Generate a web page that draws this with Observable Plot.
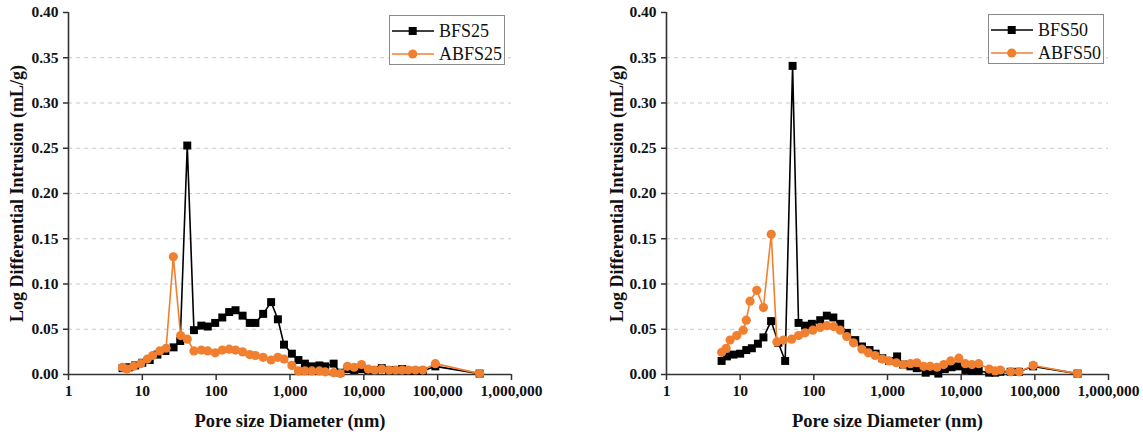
<!DOCTYPE html>
<html>
<head>
<meta charset="utf-8">
<script src="https://cdn.jsdelivr.net/npm/d3@7"></script>
<script src="https://cdn.jsdelivr.net/npm/@observablehq/plot@0.6"></script>
<style>
  html, body { margin: 0; padding: 0; background: #fff; }
  #wrap { position: relative; width: 1143px; height: 436px; overflow: hidden; font-family: "Liberation Serif", "Times New Roman", serif; }
  .panel { position: absolute; top: 0; }
  .legend { position: absolute; border: 1px solid #8a8a8a; background: #fff; box-sizing: border-box; }
  .legend .row { position: absolute; left: 0; height: 22px; display: flex; align-items: center; }
  .legend .row span { position: absolute; left: 49px; font-size: 18px; line-height: 22px; color: #111; white-space: nowrap; }
</style>
</head>
<body>
<div id="wrap"></div>
<script>
// ---------- data ----------
const seriesNames25 = ["BFS25", "ABFS25"];
const seriesNames50 = ["BFS50", "ABFS50"];

const bfs25Diameter = [5.4, 6.6, 8.0, 10, 12.6, 16, 20.5, 26.5, 32.6, 40.6, 50, 63, 77, 97, 121, 150, 183, 228, 285, 340, 433, 555, 685, 829, 1060, 1300, 1590, 1980, 2500, 3000, 3900, 4800, 6000, 7400, 9300, 11500, 14000, 17500, 22000, 27000, 33000, 40000, 50000, 63000, 93000, 370000];
const bfs25Value = [0.007, 0.008, 0.010, 0.013, 0.016, 0.022, 0.026, 0.030, 0.037, 0.253, 0.049, 0.054, 0.053, 0.057, 0.063, 0.069, 0.071, 0.065, 0.057, 0.057, 0.067, 0.080, 0.061, 0.033, 0.023, 0.016, 0.012, 0.009, 0.010, 0.009, 0.012, 0.002, 0.006, 0.005, 0.006, 0.005, 0.005, 0.007, 0.005, 0.005, 0.006, 0.004, 0.004, 0.004, 0.009, 0.001];

const abfs25Diameter = [5.4, 6.2, 7.6, 9.5, 11.7, 13.8, 17.2, 21, 26.3, 33, 40.6, 50, 63, 77, 97, 121, 150, 183, 228, 285, 340, 433, 555, 685, 829, 1060, 1300, 1590, 1980, 2500, 3000, 3900, 4800, 6000, 7400, 9300, 11500, 14000, 17500, 22000, 27000, 33000, 40000, 50000, 63000, 93000, 370000];
const abfs25Value = [0.008, 0.006, 0.009, 0.012, 0.017, 0.021, 0.026, 0.029, 0.130, 0.043, 0.039, 0.026, 0.027, 0.026, 0.024, 0.027, 0.028, 0.027, 0.025, 0.022, 0.021, 0.019, 0.016, 0.019, 0.017, 0.010, 0.004, 0.004, 0.004, 0.004, 0.003, 0.002, 0.001, 0.009, 0.008, 0.011, 0.006, 0.005, 0.006, 0.005, 0.005, 0.005, 0.005, 0.005, 0.005, 0.012, 0.001];

const bfs50Diameter = [5.6, 6.6, 8.1, 10, 12.1, 14.4, 17.4, 20.7, 26.3, 33, 40.8, 51.5, 62, 76, 94, 122, 150, 184, 228, 280, 365, 450, 570, 690, 850, 1050, 1350, 1630, 2050, 2500, 3300, 4000, 4900, 6000, 7400, 9300, 11400, 14000, 17300, 24000, 29000, 34000, 47000, 61000, 95000, 380000];
const bfs50Value = [0.015, 0.020, 0.022, 0.023, 0.027, 0.029, 0.034, 0.041, 0.059, 0.035, 0.015, 0.341, 0.057, 0.054, 0.056, 0.060, 0.065, 0.063, 0.056, 0.046, 0.038, 0.031, 0.027, 0.023, 0.018, 0.015, 0.020, 0.011, 0.009, 0.007, 0.002, 0.004, 0.001, 0.006, 0.008, 0.009, 0.005, 0.004, 0.004, 0.002, 0.002, 0.003, 0.003, 0.003, 0.009, 0.001];

const abfs50Diameter = [5.6, 6.45, 7.3, 9.0, 11.0, 12.1, 13.6, 16.8, 20.7, 26.4, 31.5, 38.8, 50, 62, 76, 97, 122, 150, 185, 228, 280, 345, 450, 550, 680, 850, 1050, 1320, 1630, 2050, 2500, 3100, 3800, 4700, 5800, 7200, 9300, 11400, 14000, 17300, 24000, 29000, 34000, 47000, 61000, 95000, 380000];
const abfs50Value = [0.0245, 0.029, 0.038, 0.043, 0.049, 0.060, 0.081, 0.093, 0.074, 0.155, 0.036, 0.038, 0.039, 0.043, 0.046, 0.049, 0.052, 0.054, 0.053, 0.049, 0.042, 0.035, 0.028, 0.024, 0.021, 0.017, 0.015, 0.013, 0.011, 0.012, 0.013, 0.009, 0.009, 0.008, 0.011, 0.015, 0.018, 0.012, 0.011, 0.012, 0.006, 0.004, 0.005, 0.003, 0.003, 0.010, 0.001];

const xTickValues = [1, 10, 100, 1000, 10000, 100000, 1000000];
const yTickValues = [0, 0.05, 0.10, 0.15, 0.20, 0.25, 0.30, 0.35, 0.40];
const gridValues = [0.05, 0.10, 0.15, 0.20, 0.25, 0.30, 0.35];
const xTitle = "Pore size Diameter (nm)";
const yTitle = "Log Differential Intrusion (mL/g)";

// ---------- styling ----------
const BLACK = "#000000";
const ORANGE = "#f08030";
const FONT = "'Liberation Serif', 'Times New Roman', serif";

function toRows(xs, ys) { return xs.map((d, i) => ({d, v: ys[i]})); }

function panel({left, width, marginLeft, marginRight, ylabelDx, black, orange}) {
  const blackRows = toRows(black[0], black[1]);
  const orangeRows = toRows(orange[0], orange[1]);
  const chart = Plot.plot({
    width, height: 436,
    marginTop: 12, marginBottom: 62, marginLeft, marginRight,
    x: {type: "log", domain: [1, 1e6]},
    y: {domain: [0, 0.4]},
    style: {fontFamily: FONT, fontWeight: "bold", fontSize: "15px", color: "#111", background: "transparent", overflow: "visible"},
    marks: [
      Plot.ruleY(gridValues, {stroke: "#c9c9c9", strokeWidth: 1.2, strokeDasharray: "4,4"}),
      Plot.axisX({ticks: xTickValues, tickFormat: d3.format(","), tickSize: 6, tickPadding: 4, label: null, stroke: "#333", strokeWidth: 1.5, fontSize: 15.5}),
      Plot.axisY({ticks: yTickValues, tickFormat: d3.format(".2f"), tickSize: 5, tickPadding: 5, label: null, stroke: "#333", strokeWidth: 1.5, fontSize: 15.5}),
      Plot.ruleY([0], {stroke: "#333", strokeWidth: 1.6}),
      Plot.ruleX([1], {stroke: "#333", strokeWidth: 1.6}),
      Plot.text([xTitle], {text: d => d, frameAnchor: "bottom", textAnchor: "middle", dy: 47, fontSize: 18.5, fontWeight: "bold", lineAnchor: "middle", fill: "#111"}),
      Plot.text([yTitle], {text: d => d, frameAnchor: "left", textAnchor: "middle", dx: ylabelDx, rotate: -90, fontSize: 18, fontWeight: "bold", lineAnchor: "middle", fill: "#111"}),
      Plot.line(blackRows, {x: "d", y: "v", stroke: BLACK, strokeWidth: 1.6}),
      Plot.dot(blackRows, {x: "d", y: "v", symbol: "square", r: 4.5, fill: BLACK, stroke: "none"}),
      Plot.line(orangeRows, {x: "d", y: "v", stroke: ORANGE, strokeWidth: 1.6}),
      Plot.dot(orangeRows, {x: "d", y: "v", symbol: "circle", r: 4.6, fill: ORANGE, stroke: "none"})
    ]
  });
  const div = document.createElement("div");
  div.className = "panel";
  div.style.left = left + "px";
  div.appendChild(chart);
  return div;
}

function legend({left, top, width, height, names}) {
  const box = document.createElement("div");
  box.className = "legend";
  Object.assign(box.style, {left: left + "px", top: top + "px", width: width + "px", height: height + "px"});
  const rowsY = [4, 27];
  names.forEach((name, i) => {
    const row = document.createElement("div");
    row.className = "row";
    row.style.top = rowsY[i] + "px";
    row.style.width = width + "px";
    const color = i === 0 ? BLACK : ORANGE;
    const marker = i === 0
      ? `<rect x="18.7" y="7" width="8" height="8" fill="${color}"/>`
      : `<circle cx="22.7" cy="11" r="4.6" fill="${color}"/>`;
    row.innerHTML = `<svg width="46" height="22" style="position:absolute;left:0;top:0"><line x1="2" x2="44" y1="11" y2="11" stroke="${color}" stroke-width="1.6"/>${marker}</svg><span>${name}</span>`;
    box.appendChild(row);
  });
  return box;
}

const wrap = document.getElementById("wrap");
wrap.appendChild(panel({left: 0, width: 571, marginLeft: 68, marginRight: 60, ylabelDx: -51,
  black: [bfs25Diameter, bfs25Value], orange: [abfs25Diameter, abfs25Value]}));
wrap.appendChild(panel({left: 571, width: 572, marginLeft: 95, marginRight: 35, ylabelDx: -49,
  black: [bfs50Diameter, bfs50Value], orange: [abfs50Diameter, abfs50Value]}));
wrap.appendChild(legend({left: 389, top: 15, width: 116, height: 50, names: seriesNames25}));
wrap.appendChild(legend({left: 988, top: 14, width: 116, height: 50, names: seriesNames50}));
</script>
</body>
</html>
